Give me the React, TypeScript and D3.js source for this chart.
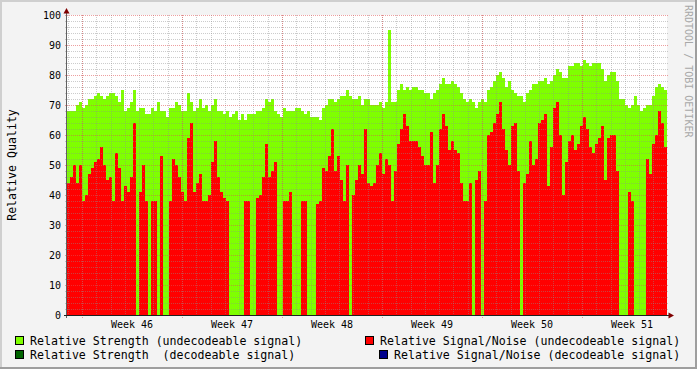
import React from 'react';
import * as d3 from 'd3';

// Relative Strength (undecodeable signal), one value per ~5h step
const strength: number[] = [
  68, 68, 68, 70, 71, 69, 70, 72, 72, 73,
  74, 73, 72, 73, 74, 74, 73, 71, 75, 68,
  69, 71, 75, 68, 69, 69, 67, 67, 69, 68,
  71, 68, 68, 66, 69, 69, 71, 70, 68, 68,
  74, 71, 68, 69, 72, 69, 70, 68, 70, 72,
  68, 68, 67, 68, 66, 67, 68, 65, 67, 65,
  67, 67, 67, 68, 68, 69, 72, 71, 72, 68,
  67, 66, 69, 68, 68, 68, 69, 69, 68, 67,
  68, 66, 66, 66, 65, 69, 70, 72, 72, 71,
  72, 73, 73, 75, 73, 72, 72, 73, 70, 72,
  72, 70, 70, 70, 71, 69, 71, 95, 71, 71,
  75, 77, 75, 76, 75, 76, 76, 75, 75, 74,
  74, 72, 74, 75, 77, 79, 77, 77, 78, 77,
  76, 74, 72, 71, 72, 71, 69, 71, 72, 71,
  75, 76, 78, 80, 81, 79, 76, 78, 75, 74,
  73, 73, 71, 74, 75, 77, 77, 78, 78, 79,
  77, 78, 80, 82, 81, 79, 79, 83, 83, 84,
  84, 83, 85, 84, 83, 84, 84, 84, 82, 78,
  80, 81, 81, 78, 72, 72, 70, 69, 70, 73,
  70, 68, 69, 70, 70, 73, 76, 77, 76, 75,
];

// Relative Signal/Noise (undecodeable signal); 0 = no value
const snr: number[] = [
  44, 46, 50, 44, 50, 38, 40, 47, 49, 51,
  52, 56, 50, 45, 46, 38, 54, 49, 38, 43,
  41, 46, 64, 0, 41, 50, 38, 0, 38, 38,
  0, 53, 0, 0, 38, 52, 50, 46, 41, 38,
  59, 64, 41, 44, 47, 38, 38, 40, 51, 58,
  46, 41, 39, 38, 0, 0, 0, 0, 0, 38,
  38, 0, 0, 39, 40, 46, 57, 46, 48, 51,
  0, 0, 38, 38, 41, 0, 0, 0, 38, 38,
  0, 0, 0, 37, 38, 49, 48, 53, 62, 48,
  53, 45, 38, 50, 0, 40, 45, 50, 47, 62,
  44, 43, 44, 50, 54, 47, 52, 50, 38, 48,
  57, 62, 67, 63, 58, 58, 58, 56, 53, 50,
  50, 61, 44, 50, 62, 67, 63, 55, 58, 55,
  54, 44, 38, 38, 44, 0, 45, 48, 0, 38,
  60, 61, 64, 67, 71, 62, 55, 50, 63, 64,
  48, 0, 44, 47, 58, 50, 52, 64, 65, 67,
  43, 56, 69, 71, 60, 40, 51, 58, 60, 55,
  57, 63, 66, 62, 56, 54, 57, 59, 63, 45,
  59, 60, 60, 48, 0, 0, 0, 41, 38, 0,
  0, 0, 0, 52, 47, 57, 60, 68, 64, 56,
];

const yTickValues = [0, 10, 20, 30, 40, 50, 60, 70, 80, 90, 100];
const legendLabels = [
  'Relative Strength (undecodeable signal)',
  'Relative Strength  (decodeable signal)',
  'Relative Signal/Noise (undecodeable signal)',
  'Relative Signal/Noise (decodeable signal)',
];
const legendColors = ['#7fff00', '#006400', '#ff0000', '#00008b'];
const yTitle = 'Relative Quality';
const watermark = 'RRDTOOL / TOBI OETIKER';

const startTime = Date.UTC(2008, 10, 8, 22, 48);
const spanDays = 42;

const W = 697;
const H = 369;
const L = 67;
const R = 667;
const T = 15;
const B = 315;
const MONO = '"DejaVu Sans Mono", monospace';

export default function App() {
  const endTime = startTime + spanDays * 864e5;
  const step = (endTime - startTime) / strength.length;
  const x = d3.scaleUtc().domain([new Date(startTime), new Date(endTime)]).range([L, R]);
  const y = d3.scaleLinear().domain([0, 100]).range([B, T]);

  const mk = (arr: number[]) => {
    const pts = arr.map((v, i) => ({ t: new Date(startTime + i * step), v }));
    pts.push({ t: new Date(endTime), v: arr[arr.length - 1] });
    return pts;
  };
  const area = d3
    .area<{ t: Date; v: number }>()
    .x((d) => x(d.t))
    .y0(B)
    .y1((d) => y(d.v))
    .curve(d3.curveStepAfter);

  const days = d3.utcDay.range(new Date(startTime), new Date(endTime + 1));
  const mondays = d3.utcMonday.range(new Date(startTime), new Date(endTime + 1));
  const weekCenters = mondays
    .map((m) => new Date(m.getTime() + 3.5 * 864e5))
    .filter((d) => d.getTime() < endTime);
  const weekFmt = d3.utcFormat('%V');

  const minorY = d3.range(0, 101, 2).filter((v) => v % 10 !== 0);
  const px = (v: number) => Math.round(v) + 0.5;

  return (
    <svg
      width={W}
      height={H}
      style={{ position: 'absolute', left: 0, top: 0 }}
      shapeRendering="crispEdges"
    >
      <rect x={0} y={0} width={W} height={H} fill="#f3f3f3" />
      <path d={`M0,0H${W}V2H2V${H}H0Z`} fill="#cfcfcf" />
      <path d={`M${W},${H}H0V${H - 2}H${W - 2}V0H${W}Z`} fill="#9e9e9e" />
      <rect x={L} y={T} width={R - L} height={B - T} fill="#ffffff" />

      <path d={area(mk(strength)) || ''} fill="#7fff00" />
      <path d={area(mk(snr)) || ''} fill="#ff0000" />

      {/* minor grid */}
      <g stroke="#8f8f8f" strokeOpacity={0.45} strokeDasharray="1,1">
        {minorY.map((v) => (
          <line key={'my' + v} x1={L - 2} x2={R + 2} y1={px(y(v))} y2={px(y(v))} />
        ))}
        {days.map((d) => (
          <line key={'mx' + d.getTime()} x1={px(x(d))} x2={px(x(d))} y1={T} y2={B + 2} />
        ))}
      </g>
      {/* major grid */}
      <g stroke="#de5050" strokeOpacity={0.55} strokeDasharray="1,1">
        {yTickValues.map((v) => (
          <line key={'My' + v} x1={L - 2} x2={R + 2} y1={px(y(v))} y2={px(y(v))} />
        ))}
        {mondays.map((d) => (
          <line key={'Mx' + d.getTime()} x1={px(x(d))} x2={px(x(d))} y1={T} y2={B + 3} />
        ))}
      </g>

      {/* axes */}
      <line x1={L - 0.5} x2={L - 0.5} y1={T - 3} y2={B + 3} stroke="#606060" />
      <line x1={L - 3} x2={R + 2} y1={B + 0.5} y2={B + 0.5} stroke="#202020" />
      <path d={`M${L - 3.5},${T - 1.5}L${L + 2.5},${T - 1.5}L${L - 0.5},${T - 7}Z`} fill="#7f0000" shapeRendering="auto" />
      <path d={`M${R + 1.5},${B - 2.5}L${R + 1.5},${B + 3.5}L${R + 7},${B + 0.5}Z`} fill="#7f0000" shapeRendering="auto" />

      {/* y tick labels */}
      <g fontFamily={MONO} fontSize={10} fill="#000" textAnchor="end">
        {yTickValues.map((v) => (
          <text key={'yl' + v} x={61} y={y(v) + 3.5}>
            {v}
          </text>
        ))}
      </g>
      {/* x week labels */}
      <g fontFamily={MONO} fontSize={10} fill="#000" textAnchor="middle">
        {weekCenters.map((d) => (
          <text key={'wl' + d.getTime()} x={x(d)} y={328}>
            {'Week ' + +weekFmt(d)}
          </text>
        ))}
      </g>

      <text
        transform="translate(16,165) rotate(-90)"
        fontFamily={MONO}
        fontSize={11.6}
        textAnchor="middle"
        fill="#000"
      >
        {yTitle}
      </text>
      <text
        transform="translate(685,5) rotate(90)"
        fontFamily={MONO}
        fontSize={10}
        fill="#a8a8a8"
      >
        {watermark}
      </text>

      {/* legend */}
      <g fontFamily={MONO} fontSize={11.6} fill="#000">
        {[
          { bx: 15, by: 336, tx: 30 },
          { bx: 15, by: 350, tx: 30 },
          { bx: 365, by: 336, tx: 380 },
          { bx: 379, by: 350, tx: 394 },
        ].map((p, i) => (
          <g key={'lg' + i}>
            <rect x={p.bx + 0.5} y={p.by + 0.5} width={8} height={8} fill={legendColors[i]} stroke="#000" />
            <text x={p.tx} y={p.by + 8.8} style={{ whiteSpace: 'pre' }}>
              {legendLabels[i]}
            </text>
          </g>
        ))}
      </g>
    </svg>
  );
}
